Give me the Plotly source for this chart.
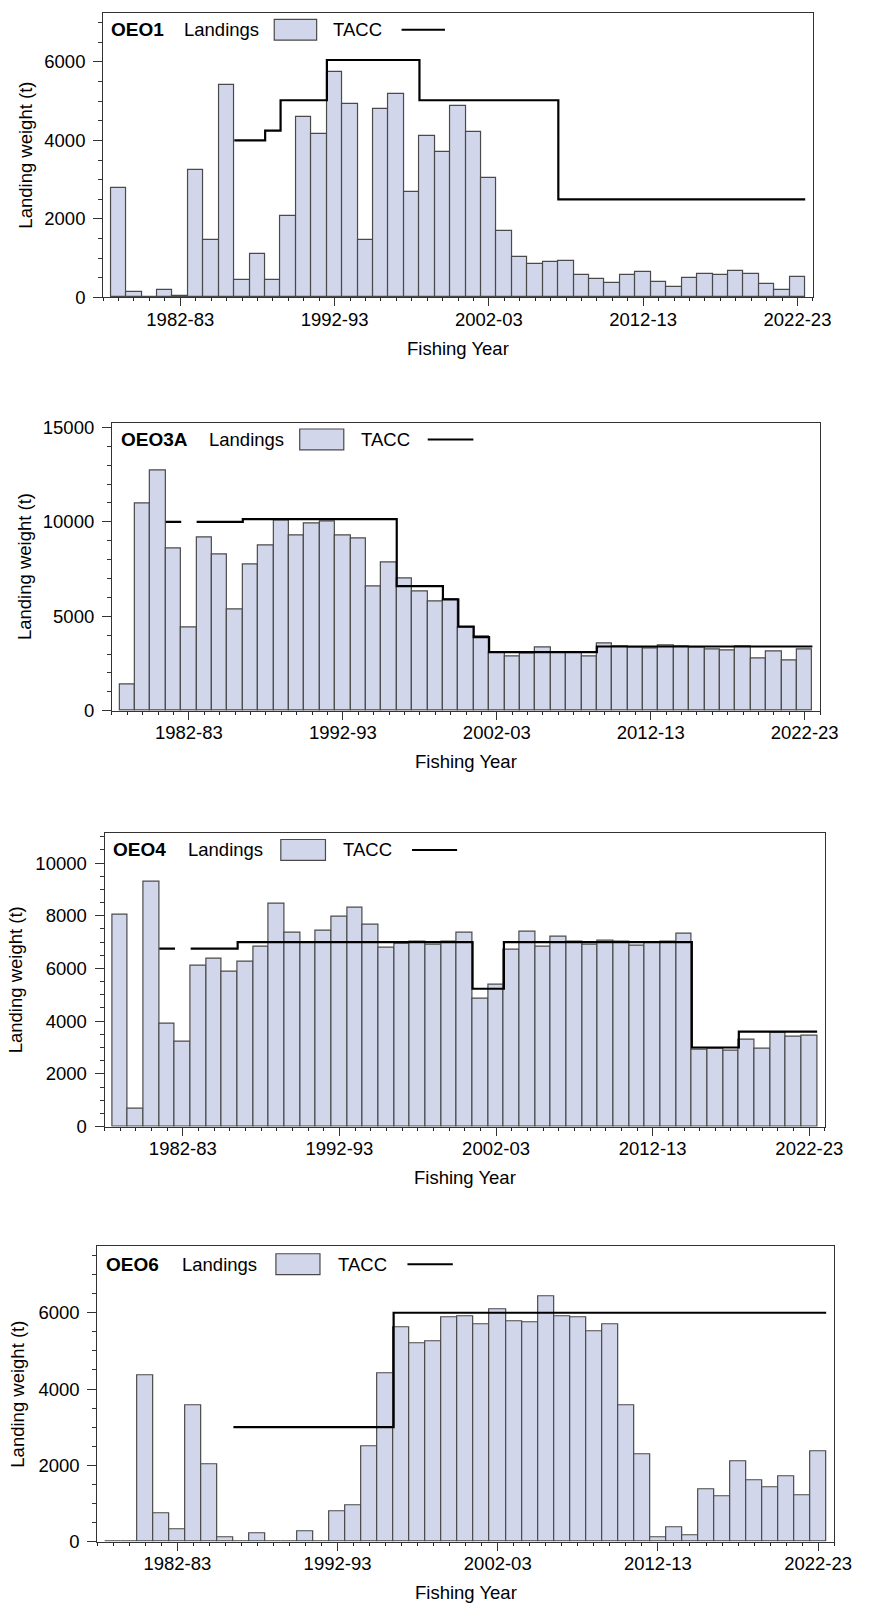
import plotly.graph_objects as go

# ---------------- data ----------------
years = list(range(1978, 2023))
tick_years = [1982, 1992, 2002, 2012, 2022]
tick_labels = ["1982-83", "1992-93", "2002-03", "2012-13", "2022-23"]

stocks = ["OEO1", "OEO3A", "OEO4", "OEO6"]

oeo1_landings = [2800, 150, 20, 180, 50, 3250, 1475, 5410, 440, 1100,
                 440, 2070, 4590, 4155, 5755, 4920, 1465, 4795, 5185, 2680,
                 4105, 3715, 4870, 4215, 3050, 1695, 1030, 860, 910, 935,
                 580, 465, 360, 580, 655, 390, 270, 505, 605, 580,
                 685, 605, 335, 195, 530]
oeo1_tacc = [None] * 8 + [4000, 4000, 4250, 5025, 5025, 5025] + [6050] * 6 + [5025] * 9 + [2500] * 16

oeo3a_landings = [1365, 10960, 12710, 8585, 4405, 9160, 8285, 5330, 7760, 8740,
                  10050, 9250, 9910, 10035, 9250, 9110, 6555, 7865, 6975, 6310,
                  5770, 5890, 4400, 3900, 3060, 2850, 3040, 3320, 3060, 3095,
                  2850, 3530, 3375, 3320, 3285, 3460, 3375, 3320, 3235, 3165,
                  3375, 2745, 3110, 2640, 3215]
oeo3a_tacc = [None] * 3 + [10000, None, 10000, 10000, 10000] + [10150] * 10 + [6600] * 3 + \
             [5900, 4450, 3900] + [3100] * 7 + [3400] * 14

oeo4_landings = [8040, 680, 9280, 3910, 3200, 6105, 6370, 5880, 6255, 6820,
                 8450, 7350, 6960, 7425, 7965, 8300, 7675, 6770, 6945, 7000,
                 6885, 7000, 7360, 4865, 5380, 6710, 7400, 6820, 7200, 7000,
                 6895, 7035, 7000, 6860, 6960, 7000, 7300, 2910, 2970, 2870,
                 3285, 2945, 3550, 3400, 3435]
oeo4_tacc = [None] * 3 + [6750, None, 6750, 6750, 6750] + [7000] * 15 + [5230] * 2 + \
            [7000] * 12 + [3000] * 3 + [3600] * 5

oeo6_landings = [15, 15, 4360, 750, 330, 3565, 2035, 120, 0, 225,
                 0, 0, 275, 15, 805, 965, 2505, 4420, 5620, 5205,
                 5260, 5890, 5915, 5705, 6095, 5785, 5740, 6440, 5915, 5890,
                 5525, 5705, 3585, 2295, 120, 365, 155, 1365, 1200, 2115,
                 1595, 1435, 1700, 1225, 2355]
oeo6_tacc = [None] * 8 + [3000] * 10 + [6000] * 27

landings_all = [oeo1_landings, oeo3a_landings, oeo4_landings, oeo6_landings]
tacc_all = [oeo1_tacc, oeo3a_tacc, oeo4_tacc, oeo6_tacc]

# ---------------- layout constants (pixels) ----------------
W, H = 875, 1622
frames = [(105.3, 830.0, 7.0, 294.3),
          (114.3, 837.3, 420.7, 711.7),
          (106.7, 842.3, 835.0, 1131.7),
          (99.3, 851.7, 1252.7, 1551.0)]
ymax = [7250, 15260, 11150, 7740]
ydtick = [2000, 5000, 2000, 2000]
yminor = [500, 1000, 500, 500]
ytitle_x = [26, 25, 16, 17]
label_dx = [8, 9, 8.3, 9]
land_dx = [83, 99, 85.6, 86.7]
box_dx = [(174.7, 218), (191.7, 236.7), (180, 225.6), (182.4, 227.4)]
tacc_dx = [234.7, 254, 243.3, 245.7]
line_dx = [(304.7, 349), (322.4, 369), (314, 360), (316.7, 363)]
leg_dy = [17, 17, 17.3, 18]

FONT = "Liberation Sans, Arial, sans-serif"
FS = 18.5
FILL = "#d1d6ea"
EDGE = "#4a4a4a"


def px(x):
    return x / W


def py(y):
    return 1 - y / H


def step_xy(xs, vals):
    sx, sy = [], []
    run = []
    for x, v in list(zip(xs, vals)) + [(None, None)]:
        if v is None:
            if run:
                for rx, rv in run:
                    sx.append(rx - 0.5)
                    sy.append(rv)
                sx.append(run[-1][0] + 0.5)
                sy.append(run[-1][1])
                sx.append(None)
                sy.append(None)
                run = []
        else:
            run.append((x, v))
    return sx, sy


fig = go.Figure()
annotations = []
shapes = []

for i in range(4):
    sfx = "" if i == 0 else str(i + 1)
    xa, ya = "x" + sfx, "y" + sfx
    L, R, T, B = frames[i]

    fig.add_trace(go.Bar(x=years, y=landings_all[i], width=1,
                         marker=dict(color=FILL, line=dict(color=EDGE, width=1.2)),
                         xaxis=xa, yaxis=ya, showlegend=False, name="Landings"))
    sx, sy = step_xy(years, tacc_all[i])
    fig.add_trace(go.Scatter(x=sx, y=sy, mode="lines", connectgaps=False,
                             line=dict(color="black", width=2.2, shape="hv"),
                             xaxis=xa, yaxis=ya, showlegend=False, name="TACC"))

    fig.update_layout(**{
        "xaxis" + sfx: dict(
            domain=[px(L), px(R)], range=[1977, 2023], anchor=ya,
            tickmode="array", tickvals=tick_years, ticktext=tick_labels,
            ticks="outside", ticklen=8, tickcolor="#333", tickwidth=1,
            showline=True, linecolor="#333", linewidth=1, mirror=True,
            showgrid=False, zeroline=False, ticklabelstandoff=-3,
            tickfont=dict(family=FONT, size=FS, color="black"),
            minor=dict(tick0=1978, dtick=1, ticks="outside", ticklen=3,
                       tickcolor="#222", tickwidth=1, showgrid=False),
        ),
        "yaxis" + sfx: dict(
            domain=[py(B), py(T)], range=[0, ymax[i]], anchor=xa,
            tickmode="linear", tick0=0, dtick=ydtick[i], tickformat="d",
            ticks="outside", ticklen=9, tickcolor="#333", tickwidth=1,
            showline=True, linecolor="#333", linewidth=1, mirror=True,
            showgrid=False, zeroline=False, ticklabelstandoff=4,
            tickfont=dict(family=FONT, size=FS, color="black"),
            minor=dict(dtick=yminor[i], ticks="outside", ticklen=4,
                       tickcolor="#333", tickwidth=1, showgrid=False),
        ),
    })

    # axis titles
    annotations.append(dict(x=px((L + R) / 2), y=py(B + 51.5), xref="paper", yref="paper",
                            text="Fishing Year", showarrow=False, xanchor="center", yanchor="middle",
                            font=dict(family=FONT, size=FS, color="black")))
    annotations.append(dict(x=px(ytitle_x[i]), y=py((T + B) / 2), xref="paper", yref="paper",
                            text="Landing weight (t)", showarrow=False, textangle=-90,
                            xanchor="center", yanchor="middle",
                            font=dict(family=FONT, size=FS, color="black")))
    # in-plot legend
    ly = T + leg_dy[i]
    annotations.append(dict(x=px(L + label_dx[i] - 2), y=py(ly), xref="paper", yref="paper",
                            text="<b>" + stocks[i] + "</b>", showarrow=False,
                            xanchor="left", yanchor="middle",
                            font=dict(family=FONT, size=19, color="black")))
    annotations.append(dict(x=px(L + land_dx[i] - 2), y=py(ly), xref="paper", yref="paper",
                            text="Landings", showarrow=False, xanchor="left", yanchor="middle",
                            font=dict(family=FONT, size=FS, color="black")))
    annotations.append(dict(x=px(L + tacc_dx[i] - 2), y=py(ly), xref="paper", yref="paper",
                            text="TACC", showarrow=False, xanchor="left", yanchor="middle",
                            font=dict(family=FONT, size=FS, color="black")))
    shapes.append(dict(type="rect", xref="paper", yref="paper",
                       x0=px(L + box_dx[i][0]), x1=px(L + box_dx[i][1]),
                       y0=py(ly + 10.5), y1=py(ly - 10.5),
                       fillcolor=FILL, line=dict(color=EDGE, width=1.2)))
    shapes.append(dict(type="line", xref="paper", yref="paper",
                       x0=px(L + line_dx[i][0]), x1=px(L + line_dx[i][1]),
                       y0=py(ly), y1=py(ly),
                       line=dict(color="black", width=2)))

fig.update_layout(width=W, height=H, margin=dict(l=0, r=0, t=0, b=0),
                  paper_bgcolor="white", plot_bgcolor="white",
                  bargap=0, barmode="overlay",
                  font=dict(family=FONT, size=FS, color="black"),
                  annotations=annotations, shapes=shapes)

fig.write_html("out.html", config={"displayModeBar": False},
               post_script="document.body.style.margin='0px';document.body.style.overflow='hidden';")
